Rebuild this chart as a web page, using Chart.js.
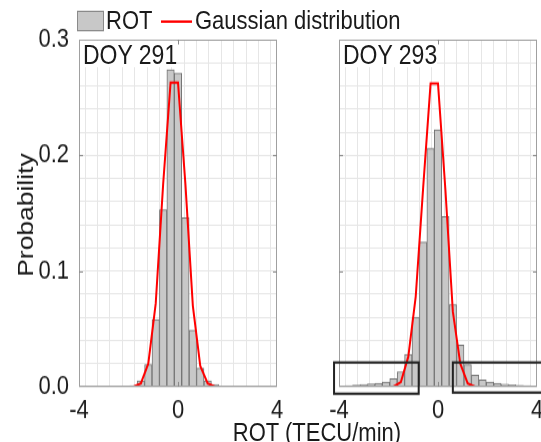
<!DOCTYPE html>
<html><head><meta charset="utf-8">
<script src="https://cdn.jsdelivr.net/npm/chart.js@4.4.1/dist/chart.umd.min.js"></script>
<style>
html,body{margin:0;padding:0;background:#fff;overflow:hidden;}
#fig{position:absolute;left:0;top:0;width:541px;height:368px;transform:scaleY(1.2011);transform-origin:0 0;font-family:"Liberation Sans",Arial,sans-serif;color:#1a1a1a;}
#fig canvas{position:absolute;left:0;top:0;}
.t{position:absolute;white-space:nowrap;font-size:22px;line-height:26px;}
.lab{position:absolute;background:#fff;font-size:23px;line-height:22px;padding-left:3px;white-space:nowrap;}
</style></head><body>
<div id="fig">
<canvas id="c1" width="541" height="368"></canvas>
<canvas id="c2" width="541" height="368"></canvas>
<div style="position:absolute;left:77px;top:9px;width:25px;height:15px;background:#c8c8c8;border:1px solid #8a8a8a;"></div>
<div class="t" style="left:106px;top:4px;">ROT</div>
<div style="position:absolute;left:161px;top:16.5px;width:31px;height:2px;background:#ff0000;"></div>
<div class="t" style="left:195px;top:4px;">Gaussian distribution</div>
<div class="t" style="left:26px;top:179px;transform:translate(-50%,-50%) rotate(-90deg);">Probability</div>
<div class="t" style="left:317px;top:360px;transform:translate(-50%,-50%);">ROT (TECU/min)</div>
<div class="lab" style="left:80px;top:34px;width:94px;height:22px;">DOY 291</div>
<div class="lab" style="left:340px;top:34px;width:94px;height:22px;">DOY 293</div>
</div>
<script>
// ---- data ----
const binCenters = [-3.9,-3.6,-3.3,-3.0,-2.7,-2.4,-2.1,-1.8,-1.5,-1.2,-0.9,-0.6,-0.3,0,0.3,0.6,0.9,1.2,1.5,1.8,2.1,2.4,2.7,3.0,3.3,3.6,3.9];
const rotDoy291 = [0,0,0,0,0,0,0,0.001,0.005,0.019,0.058,0.153,0.274,0.271,0.146,0.049,0.016,0.005,0.002,0,0,0,0,0,0,0,0];
const rotDoy293 = [0.0006,0.001,0.0015,0.002,0.0025,0.003,0.004,0.007,0.013,0.028,0.060,0.125,0.206,0.222,0.147,0.071,0.036,0.019,0.010,0.006,0.004,0.003,0.0023,0.0017,0.0013,0.001,0.0005];
const gaussX = [-4,-3.9,-3.6,-3.3,-3.0,-2.7,-2.4,-2.1,-1.8,-1.5,-1.2,-0.9,-0.6,-0.3,0,0.3,0.6,0.9,1.2,1.5,1.8,2.1,2.4,2.7,3.0,3.3,3.6,3.9,4];
const gaussDoy291 = [0,0,0,0,0,0,0,0,0,0.003,0.020,0.072,0.175,0.263,0.263,0.175,0.070,0.018,0.003,0,0,0,0,0,0,0,0,0,0];
const gaussDoy293 = [0,0,0,0,0,0,0,0,0,0.004,0.026,0.078,0.172,0.262,0.262,0.170,0.065,0.020,0.003,0,0,0,0,0,0,0,0,0,0];
const xTickValues = [-4,0,4];
const yTickLabels = ['0.0','0.1','0.2','0.3'];
const innerTickY = [0.1,0.2];
const innerTickX = [0];
// highlight boxes on DOY 293 panel (data units)
const boxesDoy293 = [
  {x0:-4.2, x1:-0.78, y0:-0.006, y1:0.021},
  {x0:0.6, x1:4.4, y0:-0.005, y1:0.021}
];

Chart.defaults.font.family = '"Liberation Sans", Arial, sans-serif';
Chart.defaults.font.size = 22;
Chart.defaults.color = '#1a1a1a';

const framePlugin = {
  id: 'frame',
  afterDatasetsDraw(chart, args, opts) {
    const {ctx, chartArea: a, scales} = chart;
    ctx.save();
    ctx.strokeStyle = '#a0a0a0';
    ctx.lineWidth = 1;
    ctx.strokeRect(Math.round(a.left)+0.5, Math.round(a.top)+0.5, Math.round(a.right-a.left)-1, Math.round(a.bottom-a.top)-1);
    ctx.strokeStyle = '#8a8a8a';
    ctx.beginPath();
    innerTickY.forEach(v => {
      const y = Math.round(scales.y.getPixelForValue(v)) + 0.5;
      ctx.moveTo(a.left, y); ctx.lineTo(a.left + 4, y);
      ctx.moveTo(a.right, y); ctx.lineTo(a.right - 4, y);
    });
    innerTickX.forEach(v => {
      const x = Math.round(scales.x.getPixelForValue(v)) + 0.5;
      ctx.moveTo(x, a.bottom); ctx.lineTo(x, a.bottom - 4);
      ctx.moveTo(x, a.top); ctx.lineTo(x, a.top + 4);
    });
    ctx.stroke();
    (opts.boxes || []).forEach(b => {
      const x0 = scales.x.getPixelForValue(b.x0), x1 = scales.x.getPixelForValue(b.x1);
      const y0 = scales.y.getPixelForValue(b.y0), y1 = scales.y.getPixelForValue(b.y1);
      ctx.strokeStyle = '#222';
      ctx.lineWidth = 2;
      ctx.strokeRect(x0, y1, x1 - x0, y0 - y1);
    });
    ctx.restore();
  }
};

function makePanel(id, rot, gauss, yAxisWidth, padRight, showY, boxes) {
  return new Chart(document.getElementById(id), {
    data: {
      datasets: [
        {
          type: 'line', label: 'Gaussian distribution', order: 0,
          data: gaussX.map((x, i) => ({x, y: gauss[i]})),
          borderColor: '#ff0000', borderWidth: 2, pointRadius: 0, tension: 0, fill: false
        },
        {
          type: 'bar', label: 'ROT', order: 1,
          data: binCenters.map((x, i) => ({x, y: rot[i]})),
          backgroundColor: '#c8c8c8', borderColor: '#747474', borderWidth: 1,
          barPercentage: 1, categoryPercentage: 1
        }
      ]
    },
    options: {
      responsive: false, animation: false, devicePixelRatio: 1,
      layout: {padding: {left: 0, right: padRight, top: 33, bottom: 0}},
      plugins: {legend: {display: false}, tooltip: {enabled: false}, frame: {boxes}},
      scales: {
        x: {
          type: 'linear', min: -4, max: 4, offset: false,
          grid: {color: '#e6e6e6', drawTicks: false},
          border: {display: false},
          ticks: {
            stepSize: 0.5, autoSkip: false, maxRotation: 0, padding: 7,
            callback: v => xTickValues.includes(v) ? String(v) : ''
          },
          afterFit: s => { s.height = 46; s.paddingLeft = 0; s.paddingRight = 0; }
        },
        y: {
          min: 0, max: 0.3,
          grid: {color: '#e6e6e6', drawTicks: false},
          border: {display: false},
          ticks: {
            display: showY, stepSize: 0.02, autoSkip: false, padding: 10,
            callback: v => {
              const k = Math.round(v * 100);
              return k % 10 === 0 ? yTickLabels[k / 10] : '';
            }
          },
          afterFit: s => { s.width = yAxisWidth; }
        }
      }
    },
    plugins: [framePlugin]
  });
}

makePanel('c1', rotDoy291, gaussDoy291, 79, 264, true, []);
makePanel('c2', rotDoy293, gaussDoy293, 339, 4, false, boxesDoy293);
</script>
</body></html>
